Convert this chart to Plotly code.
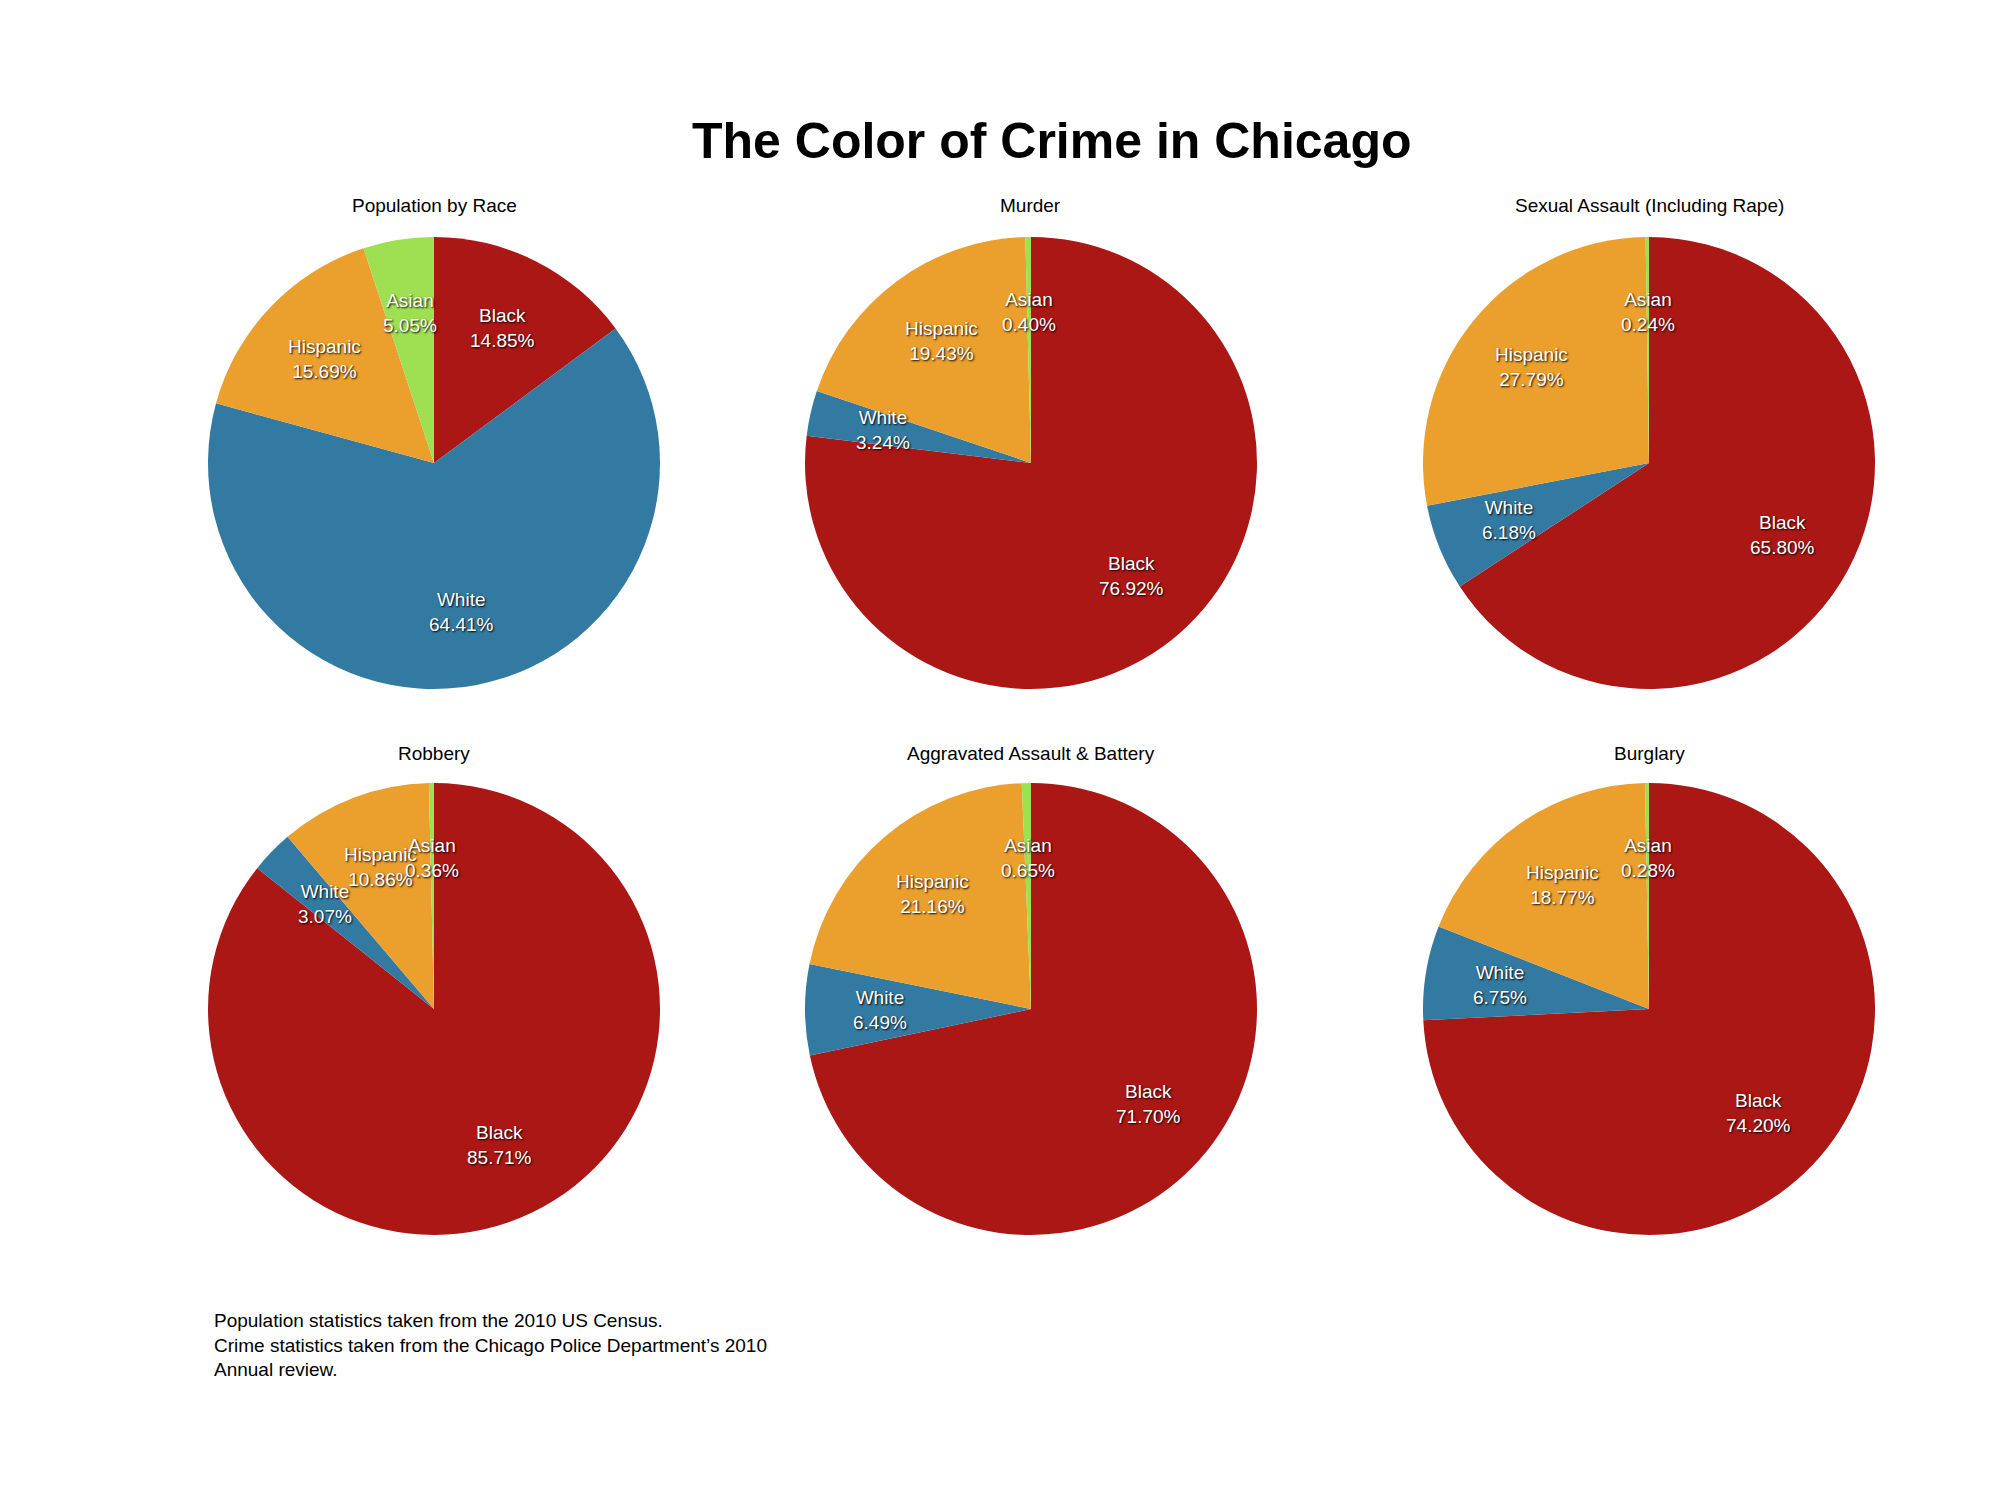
import math
import plotly.graph_objects as go

labels = ["Black", "White", "Hispanic", "Asian"]
colors = ["#ab1715", "#337aa2", "#eb9f2d", "#9ee052"]
titles = ["Population by Race", "Murder", "Sexual Assault (Including Rape)",
          "Robbery", "Aggravated Assault & Battery", "Burglary"]
population = [14.85, 64.41, 15.69, 5.05]
murder = [76.92, 3.24, 19.43, 0.40]
sexual_assault = [65.80, 6.18, 27.79, 0.24]
robbery = [85.71, 3.07, 10.86, 0.36]
agg_assault = [71.70, 6.49, 21.16, 0.65]
burglary = [74.20, 6.75, 18.77, 0.28]
series = [population, murder, sexual_assault, robbery, agg_assault, burglary]

W, H = 2000, 1505
cx = [426, 1023, 1641]
cy = [455, 1001]
r = 226
fig = go.Figure()
for i, vals in enumerate(series):
    x0 = cx[i % 3]; y0 = cy[i // 3]
    fig.add_trace(go.Pie(
        labels=labels, values=vals, sort=False, direction="clockwise", rotation=0,
        marker=dict(colors=colors, line=dict(width=0)), textinfo="none",
        domain=dict(x=[(x0 - r) / W, (x0 + r) / W], y=[1 - (y0 + r) / H, 1 - (y0 - r) / H]),
        showlegend=False, hoverinfo="label+value"))
    fig.add_annotation(x=x0 / W, y=1 - (197 if i < 3 else 745) / H, xref="paper", yref="paper",
                       xanchor="center", yanchor="middle",
                       text=titles[i], showarrow=False, font=dict(size=19, color="black"))
    total = sum(vals)
    cum = 0.0
    for lab, v in zip(labels, vals):
        mid = (cum + v / 2) / total * 2 * math.pi
        cum += v
        lx = x0 + 0.67 * r * math.sin(mid)
        ly = y0 - 0.67 * r * math.cos(mid)
        fig.add_annotation(x=lx / W, y=1 - ly / H, xref="paper", yref="paper",
                           xanchor="center", yanchor="middle", showarrow=False,
                           text=f"{lab}<br>{v:.2f}%",
                           font=dict(size=19, color="white", shadow="1px 1px 2px #000"))

fig.add_annotation(x=1043 / W, y=1 - 103 / H, xref="paper", yref="paper", xanchor="center",
                   text="<b>The Color of Crime in Chicago</b>", showarrow=False,
                   font=dict(size=50, color="black"))
fig.add_annotation(x=204 / W, y=1 - 1300 / H, xref="paper", yref="paper", xanchor="left", yanchor="top",
                   align="left", showarrow=False, font=dict(size=19, color="black"),
                   text="Population statistics taken from the 2010 US Census.<br>"
                        "Crime statistics taken from the Chicago Police Department’s 2010<br>Annual review.")
fig.update_layout(width=W, height=H, margin=dict(l=0, r=0, t=0, b=0),
                  paper_bgcolor="white", font=dict(family="Liberation Sans"))
fig.write_html("out.html")
